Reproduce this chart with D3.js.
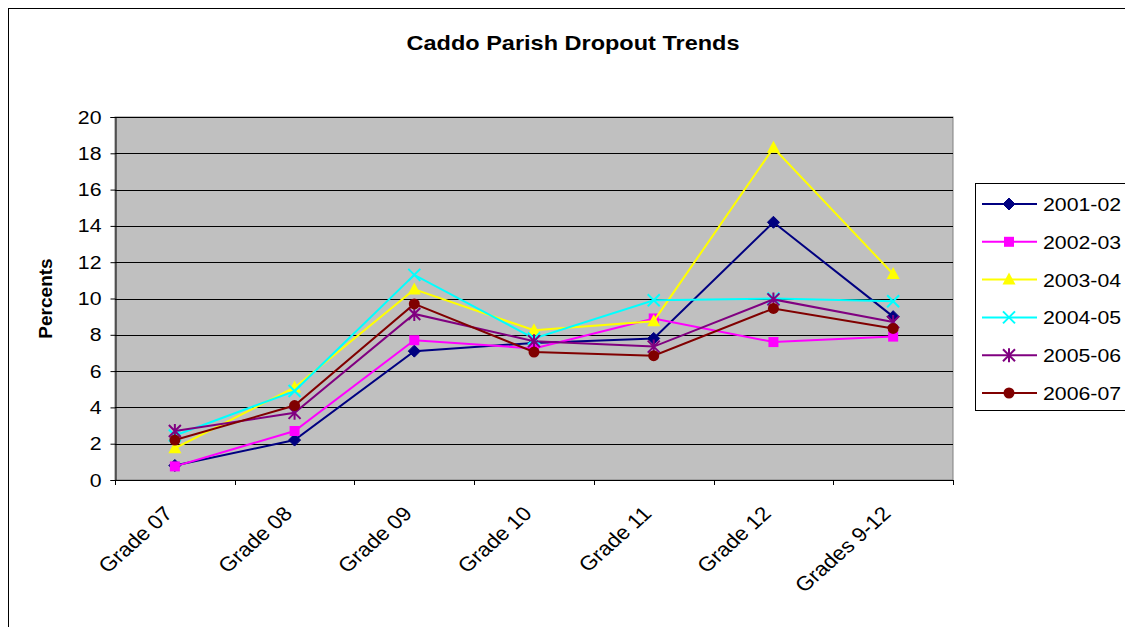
<!DOCTYPE html>
<html>
<head>
<script src="https://d3js.org/d3.v7.min.js"></script>
<style>
  body { margin: 0; background: #fff; }
  text { font-family: "Liberation Sans", Arial, sans-serif; }
</style>
</head>
<body>
<svg id="chart" width="1125" height="627"></svg>
<script>

// categories and series
const grades = ["Grade 07", "Grade 08", "Grade 09", "Grade 10", "Grade 11", "Grade 12", "Grades 9-12"]
const years = ["2001-02", "2002-03", "2003-04", "2004-05", "2005-06", "2006-07"]

const v2001 = [0.8, 2.2, 7.1, 7.55, 7.8, 14.2, 9.0]
const v2002 = [0.75, 2.7, 7.7, 7.25, 8.9, 7.6, 7.9]
const v2003 = [1.75, 5.1, 10.5, 8.25, 8.75, 18.3, 11.35]
const v2004 = [2.45, 4.9, 11.3, 7.8, 9.9, 10.0, 9.85]
const v2005 = [2.7, 3.7, 9.15, 7.65, 7.35, 9.95, 8.7]
const v2006 = [2.2, 4.1, 9.7, 7.05, 6.85, 9.45, 8.35]

const yTicks = d3.range(0, 21, 2)

const colors = ["#000080", "#ff00ff", "#ffff00", "#00ffff", "#800080", "#800000"]
const shapes = ["diamond", "square", "triangle", "cross", "star", "circle"]

const series = years.map((y, i) => ({
  name: y,
  values: [v2001, v2002, v2003, v2004, v2005, v2006][i],
  color: colors[i],
  shape: shapes[i]
}))

const margin = { top: 117, left: 115, right: 172, bottom: 147 }
const width = 1125, height = 627
const sx = 1.12   // the original text looks slightly stretched sideways

const svg = d3.select('#chart')

// outer chart frame
svg.append('rect')
  .attr('x', 8.5).attr('y', 8.5)
  .attr('width', 1140).attr('height', 640)
  .attr('fill', '#fff')
  .attr('stroke', '#000').attr('stroke-width', 1)

const x = d3.scaleBand()
  .domain(grades)
  .range([margin.left, width - margin.right])

const y = d3.scaleLinear()
  .domain([0, 20])
  .range([height - margin.bottom, margin.top])

// plot area
svg.append('rect')
  .attr('x', x.range()[0]).attr('y', y(20))
  .attr('width', x.range()[1] - x.range()[0]).attr('height', y(0) - y(20))
  .attr('fill', '#c0c0c0')
  .attr('stroke', '#808080').attr('stroke-width', 1)

// gridlines
svg.append('g')
  .selectAll('line')
  .data(yTicks.filter(d => d > 0))
  .join('line')
    .attr('x1', x.range()[0]).attr('x2', x.range()[1])
    .attr('y1', d => Math.round(y(d)) + 0.5).attr('y2', d => Math.round(y(d)) + 0.5)
    .attr('stroke', '#000').attr('stroke-width', 1)

// y axis
const yAxis = svg.append('g')
  .attr('transform', `translate(${x.range()[0] + 0.5},0)`)
  .call(d3.axisLeft(y).tickValues(yTicks).tickSize(5).tickPadding(0))
yAxis.select('.domain').attr('stroke', '#000')
yAxis.selectAll('line').attr('stroke', '#000')
yAxis.selectAll('.tick text')
  .attr('x', null)
  .attr('transform', `translate(-14,0) scale(${sx},1)`)
  .style('font-size', '19px').attr('fill', '#000')

// x axis with ticks at band edges
const xg = svg.append('g')
xg.append('line')
  .attr('x1', x.range()[0]).attr('x2', x.range()[1])
  .attr('y1', Math.round(y(0)) + 0.5).attr('y2', Math.round(y(0)) + 0.5)
  .attr('stroke', '#000')
const edges = grades.map(g => x(g)).concat([x.range()[1]])
xg.selectAll('.tk')
  .data(edges)
  .join('line')
    .attr('x1', d => Math.round(d) + 0.5).attr('x2', d => Math.round(d) + 0.5)
    .attr('y1', y(0)).attr('y2', y(0) + 5)
    .attr('stroke', '#000')
xg.selectAll('text')
  .data(grades)
  .join('text')
    .attr('transform', d => `translate(${x(d) + x.bandwidth() / 2 - 1},${y(0) + 35}) scale(${sx},1) rotate(-45)`)
    .attr('text-anchor', 'end')
    .style('font-size', '20px')
    .text(d => d)

// axis title
svg.append('text')
  .attr('transform', `translate(52,${(y(0) + y(20)) / 2}) rotate(-90)`)
  .attr('text-anchor', 'middle')
  .style('font-size', '19px').style('font-weight', 'bold')
  .text('Percents')

// title
svg.append('text')
  .attr('transform', `translate(573,50) scale(${sx},1)`)
  .attr('text-anchor', 'middle')
  .style('font-size', '21px').style('font-weight', 'bold')
  .text('Caddo Parish Dropout Trends')

// marker drawing
function marker(g, shape, color) {
  if (shape === 'diamond') {
    g.append('path').attr('d', 'M0,-6L6,0L0,6L-6,0Z').attr('fill', color).attr('stroke', color)
  } else if (shape === 'square') {
    g.append('rect').attr('x', -5).attr('y', -5).attr('width', 10).attr('height', 10).attr('fill', color)
  } else if (shape === 'triangle') {
    g.append('path').attr('d', 'M0,-7L6.5,5L-6.5,5Z').attr('fill', color)
  } else if (shape === 'cross') {
    g.append('path').attr('d', 'M-6,-6L6,6M-6,6L6,-6').attr('stroke', color).attr('stroke-width', 2)
  } else if (shape === 'star') {
    g.append('path').attr('d', 'M-6,-6L6,6M-6,6L6,-6M0,-7L0,7').attr('stroke', color).attr('stroke-width', 2)
  } else {
    g.append('circle').attr('r', 5.5).attr('fill', color)
  }
}

const line = d3.line()
  .x((d, i) => x(grades[i]) + x.bandwidth() / 2)
  .y(d => y(d))

const plot = svg.append('g')
series.forEach(s => {
  plot.append('path')
    .attr('d', line(s.values))
    .attr('fill', 'none')
    .attr('stroke', s.color)
    .attr('stroke-width', 2)
  s.values.forEach((v, i) => {
    const g = plot.append('g')
      .attr('transform', `translate(${x(grades[i]) + x.bandwidth() / 2},${y(v)})`)
    marker(g, s.shape, s.color)
  })
})

// legend
const lg = svg.append('g')
lg.append('rect')
  .attr('x', 975.5).attr('y', 183.5)
  .attr('width', 160).attr('height', 227)
  .attr('fill', '#fff').attr('stroke', '#000')
series.forEach((s, i) => {
  const ly = 204 + i * 37.8
  lg.append('line')
    .attr('x1', 982).attr('x2', 1037)
    .attr('y1', ly).attr('y2', ly)
    .attr('stroke', s.color).attr('stroke-width', 2)
  marker(lg.append('g').attr('transform', `translate(1009,${ly})`), s.shape, s.color)
  lg.append('text')
    .attr('transform', `translate(1043,${ly + 7}) scale(${sx},1)`)
    .style('font-size', '19px')
    .text(s.name)
})

</script>
</body>
</html>
